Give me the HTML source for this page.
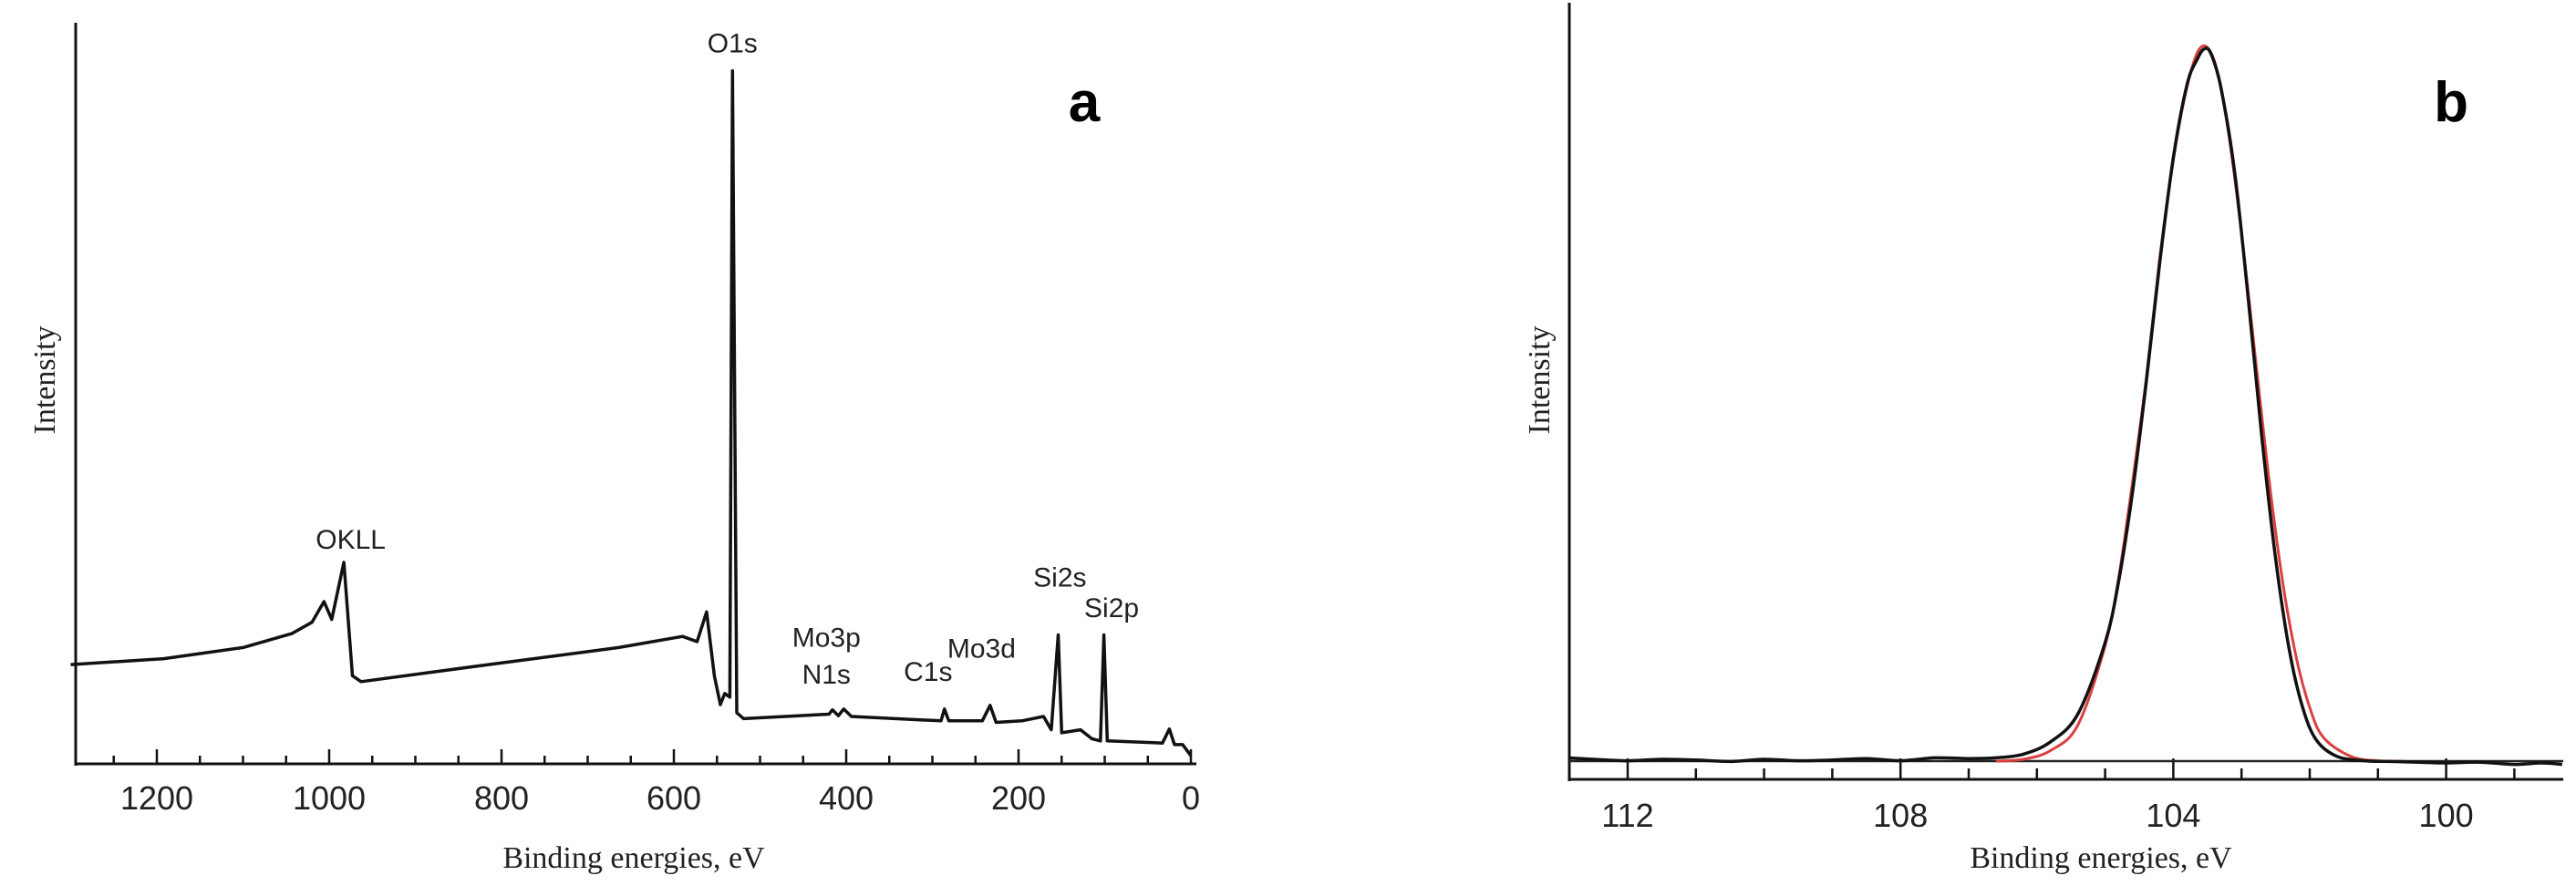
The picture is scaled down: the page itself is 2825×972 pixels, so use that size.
<!DOCTYPE html>
<html><head><meta charset="utf-8">
<style>
html,body{margin:0;padding:0;background:#fff;}
svg{display:block;}
text{fill:#222;}
.tick{font-family:"Liberation Sans",sans-serif;font-size:36px;}
.ttl{font-family:"Liberation Serif",serif;font-size:34px;}
.pk{font-family:"Liberation Sans",sans-serif;font-size:30px;}
.pan{font-family:"Liberation Sans",sans-serif;font-size:62px;font-weight:bold;fill:#000;}
</style></head>
<body>
<svg id="fig" width="2825" height="972" viewBox="0 0 2825 972" xmlns="http://www.w3.org/2000/svg">
  <g id="pa"></g>
  <g id="pb"></g>
</svg>
<script>
// ---- Panel a data (survey) ----
const surveyBE = [1300,1192,1100,1043,1020,1006,997,983,973,963,815,664,590,573,562,553,546,541,535,532,527,519,420,416,409,403,394,290,286,281,242,233,226,196,171,162,154,150,128,115,105,101,97,33,25,19,9.5,0];
const surveyI  = [13.4,14.2,15.7,17.6,19.1,21.9,19.5,27.2,11.9,11.1,13.4,15.7,17.2,16.5,20.5,11.9,8.0,9.5,9.0,93.5,6.9,6.1,6.7,7.3,6.5,7.4,6.4,5.8,7.4,5.8,5.8,7.9,5.6,5.8,6.4,4.6,17.4,4.2,4.6,3.4,3.1,17.4,3.1,2.8,4.7,2.6,2.6,1.1];
const surveyTicks = [1200,1000,800,600,400,200,0];
const surveyLabels = ["O1s","OKLL","Mo3p","N1s","C1s","Mo3d","Si2s","Si2p"];
const surveyLabelBE = [532,975,423,423,305,243,152,92];
const surveyLabelI = [96,29,15.8,10.8,11.2,14.3,23.9,19.8];

// ---- Panel b data (Si2p) ----
const si2pBE = [112.86,112.5,112,111.5,111,110.5,110,109.5,109,108.5,108,107.5,107,106.6,106.2,105.8,105.4,105.0,104.8,104.6,104.4,104.2,104.0,103.8,103.65,103.55,103.45,103.3,103.1,102.9,102.7,102.5,102.3,102.1,101.9,101.6,101.2,100.8,100.4,100,99.5,99,98.6,98.3];
const si2pI  = [3.2,3.0,2.8,3.0,2.9,2.7,3.0,2.8,2.9,3.1,2.8,3.2,3.1,3.2,3.7,5.4,9.2,19.0,27.5,39.5,54.5,71.0,85.5,95.5,99.0,100.4,99.8,95.0,83.5,66.0,47.0,30.5,18.0,10.0,5.6,3.4,2.8,2.7,2.6,2.5,2.6,2.3,2.5,2.3];
const fitBE = [106.6,106.2,105.8,105.4,105.0,104.8,104.6,104.4,104.2,104.0,103.8,103.6,103.4,103.2,103.0,102.8,102.6,102.4,102.2,102.0,101.8,101.4,101.0,100.6];
const fitI  = [2.75,3.0,4.2,7.7,18.6,28.0,40.9,55.0,71.6,85.2,95.2,100.6,98.8,89.5,75.2,58.3,41.6,27.5,17.1,10.1,6.0,3.4,2.8,2.75];
const baselineI = [2.75];
const si2pTicks = [112,108,104,100];

const NS="http://www.w3.org/2000/svg";
function mk(parent,tag,attrs,txt){const e=document.createElementNS(NS,tag);for(const k in attrs)e.setAttribute(k,attrs[k]);if(txt!==undefined)e.textContent=txt;parent.appendChild(e);return e;}
function smooth(pts){let d="M"+pts[0][0].toFixed(1)+","+pts[0][1].toFixed(1);
  for(let i=0;i<pts.length-1;i++){const p0=pts[Math.max(0,i-1)],p1=pts[i],p2=pts[i+1],p3=pts[Math.min(pts.length-1,i+2)];
    const c1=[p1[0]+(p2[0]-p0[0])/6,p1[1]+(p2[1]-p0[1])/6],c2=[p2[0]-(p3[0]-p1[0])/6,p2[1]-(p3[1]-p1[1])/6];
    d+=" C"+c1[0].toFixed(1)+","+c1[1].toFixed(1)+" "+c2[0].toFixed(1)+","+c2[1].toFixed(1)+" "+p2[0].toFixed(1)+","+p2[1].toFixed(1);}
  return d;}

// ===== Panel a =====
(function(){
  const g=document.getElementById('pa');
  const xL=83,xR=1306,yB=838,yT=25;
  const xs=v=>1306-(v)*0.945;
  const ys=v=>838-v*(838-25)/100;
  let el;
  el=mk(g,'line',{x1:xL,y1:yT,x2:xL,y2:yB+2,stroke:'#111','stroke-width':3});
  
  
  el=mk(g,'line',{x1:xL-1,y1:yB,x2:xR+6,y2:yB,stroke:'#111','stroke-width':3});
  
  
  for(let v=1250;v>=0;v-=50){
    const major=(v%200===0);
    el=mk(g,'line',{x1:xs(v),y1:yB,x2:xs(v),y2:yB-(major?16:9),stroke:'#111','stroke-width':2.5});
    
    
  }
  surveyTicks.forEach(v=>{
    el=mk(g,'text',{x:xs(v),y:888,'text-anchor':'middle',class:'tick'},String(v));
    
    
  });
  const pts=surveyBE.map((b,i)=>[xs(b),ys(surveyI[i])]);
  el=mk(g,'polyline',{points:pts.map(p=>p[0].toFixed(1)+","+p[1].toFixed(1)).join(" "),fill:'none',stroke:'#111','stroke-width':3.5,'stroke-linejoin':'round'});
  
  
  surveyLabels.forEach((t,i)=>{
    el=mk(g,'text',{x:xs(surveyLabelBE[i]),y:ys(surveyLabelI[i]),'text-anchor':'middle',class:'pk'},t);
    
    
  });
  el=mk(g,'text',{x:695,y:952,'text-anchor':'middle',class:'ttl'},'Binding energies, eV');
  
  
  el=mk(g,'text',{x:0,y:0,'text-anchor':'middle',class:'ttl',transform:'translate(60,417) rotate(-90)'},'Intensity');
  
  
  el=mk(g,'text',{x:1189,y:133,'text-anchor':'middle',class:'pan'},'a');
  
  
})();

// ===== Panel b =====
(function(){
  const g=document.getElementById('pb');
  const xL=1721,xR=2811,yB=855,yT=3;
  const xs=v=>1785+(112-v)*74.8;
  const ys=v=>857-v*8.0;
  let el;
  el=mk(g,'line',{x1:xL,y1:yT,x2:xL,y2:yB+2,stroke:'#111','stroke-width':3});
  
  
  el=mk(g,'line',{x1:xL-1,y1:yB,x2:xR,y2:yB,stroke:'#111','stroke-width':3});
  
  
  for(let v=112;v>=99;v-=1){
    const major=(v%4===0);
    el=mk(g,'line',{x1:xs(v),y1:yB,x2:xs(v),y2:yB-(major?23:12),stroke:'#111','stroke-width':2.5});
    
    
  }
  si2pTicks.forEach(v=>{
    el=mk(g,'text',{x:xs(v),y:907,'text-anchor':'middle',class:'tick'},String(v));
    
    
  });
  el=mk(g,'line',{x1:xL,y1:ys(baselineI[0]),x2:xR,y2:ys(baselineI[0]),stroke:'#222','stroke-width':2.5});
  
  
  el=mk(g,'path',{d:smooth(fitBE.map((b,i)=>[xs(b),ys(fitI[i])])),fill:'none',stroke:'#d9413f','stroke-width':3});
  
  
  el=mk(g,'path',{d:smooth(si2pBE.map((b,i)=>[xs(b),ys(si2pI[i])])),fill:'none',stroke:'#111','stroke-width':3.5});
  
  
  el=mk(g,'text',{x:2304,y:952,'text-anchor':'middle',class:'ttl'},'Binding energies, eV');
  
  
  el=mk(g,'text',{x:0,y:0,'text-anchor':'middle',class:'ttl',transform:'translate(1699,417) rotate(-90)'},'Intensity');
  
  
  el=mk(g,'text',{x:2688,y:133,'text-anchor':'middle',class:'pan'},'b');
  
  
})();
</script>
</body></html>
